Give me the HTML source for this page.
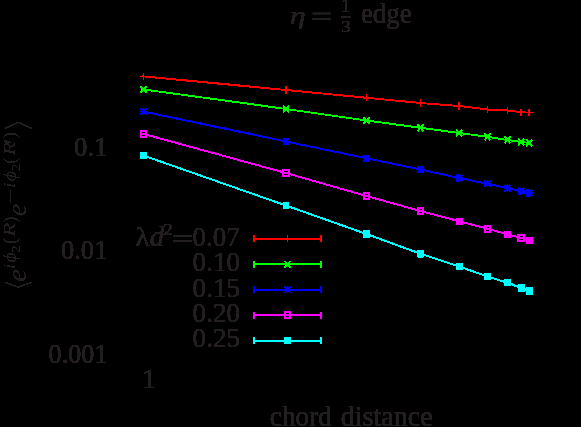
<!DOCTYPE html>
<html><head><meta charset="utf-8"><title>plot</title>
<style>
html,body{margin:0;padding:0;background:#000;}
body{width:581px;height:427px;overflow:hidden;position:relative;font-family:"Liberation Serif",serif;}
</style></head><body>
<svg width="581" height="427" viewBox="0 0 581 427" style="position:absolute;left:0;top:0;will-change:transform">
<defs><filter id="hard0" x="0" y="0" width="581" height="427" filterUnits="userSpaceOnUse" color-interpolation-filters="sRGB"><feComponentTransfer><feFuncA type="linear" slope="100" intercept="-2.5"/></feComponentTransfer></filter><filter id="hard" x="0" y="0" width="581" height="427" filterUnits="userSpaceOnUse" color-interpolation-filters="sRGB"><feComponentTransfer><feFuncA type="linear" slope="12" intercept="-0.5"/></feComponentTransfer></filter><filter id="hard2" x="0" y="0" width="581" height="427" filterUnits="userSpaceOnUse" color-interpolation-filters="sRGB"><feComponentTransfer><feFuncA type="linear" slope="8" intercept="-2.9"/></feComponentTransfer></filter></defs>
<rect width="581" height="427" fill="#000"/>
<g fill="none" filter="url(#hard0)">
<polyline points="141.91,76.25 286.00,90.00 366.50,97.80 420.50,102.90 459.20,106.00 487.50,109.40 507.50,110.40 521.20,112.20 530.30,112.42" stroke="#ff0000" stroke-width="1.03"/>
<path d="M140.20 76.40H146.80M143.50 73.10V79.70" stroke="#ff0000" stroke-width="1.03"/>
<path d="M282.70 90.00H289.30M286.00 86.70V93.30" stroke="#ff0000" stroke-width="1.03"/>
<path d="M363.20 97.80H369.80M366.50 94.50V101.10" stroke="#ff0000" stroke-width="1.03"/>
<path d="M417.20 102.90H423.80M420.50 99.60V106.20" stroke="#ff0000" stroke-width="1.03"/>
<path d="M455.90 106.00H462.50M459.20 102.70V109.30" stroke="#ff0000" stroke-width="1.03"/>
<path d="M484.20 109.40H490.80M487.50 106.10V112.70" stroke="#ff0000" stroke-width="1.03"/>
<path d="M504.20 110.40H510.80M507.50 107.10V113.70" stroke="#ff0000" stroke-width="1.03"/>
<path d="M517.90 112.20H524.50M521.20 108.90V115.50" stroke="#ff0000" stroke-width="1.03"/>
<path d="M526.00 112.40H532.60M529.30 109.10V115.70" stroke="#ff0000" stroke-width="1.03"/>
<polyline points="141.91,89.28 286.00,108.90 366.50,120.60 420.50,127.80 459.20,133.00 487.50,136.80 507.50,139.90 521.20,141.90 530.29,142.91" stroke="#00ff00" stroke-width="1.03"/>
<path d="M140.70 86.50L146.30 92.50M140.70 92.50L146.30 86.50" stroke="#00ff00" stroke-width="1.03"/>
<path d="M283.20 105.90L288.80 111.90M283.20 111.90L288.80 105.90" stroke="#00ff00" stroke-width="1.03"/>
<path d="M363.70 117.60L369.30 123.60M363.70 123.60L369.30 117.60" stroke="#00ff00" stroke-width="1.03"/>
<path d="M417.70 124.80L423.30 130.80M417.70 130.80L423.30 124.80" stroke="#00ff00" stroke-width="1.03"/>
<path d="M456.40 130.00L462.00 136.00M456.40 136.00L462.00 130.00" stroke="#00ff00" stroke-width="1.03"/>
<path d="M484.70 133.80L490.30 139.80M484.70 139.80L490.30 133.80" stroke="#00ff00" stroke-width="1.03"/>
<path d="M504.70 136.90L510.30 142.90M504.70 142.90L510.30 136.90" stroke="#00ff00" stroke-width="1.03"/>
<path d="M518.40 138.90L524.00 144.90M518.40 144.90L524.00 138.90" stroke="#00ff00" stroke-width="1.03"/>
<path d="M526.50 139.80L532.10 145.80M526.50 145.80L532.10 139.80" stroke="#00ff00" stroke-width="1.03"/>
<polyline points="141.93,111.17 286.00,141.40 366.50,158.30 420.50,169.60 459.20,178.00 487.50,183.70 507.50,188.10 521.20,191.20 530.28,193.11" stroke="#0000ff" stroke-width="1.03"/>
<path d="M140.70 108.50L146.30 114.50M140.70 114.50L146.30 108.50M143.50 108.20V114.80M140.20 111.50H146.80" stroke="#0000ff" stroke-width="1.03"/>
<path d="M283.20 138.40L288.80 144.40M283.20 144.40L288.80 138.40M286.00 138.10V144.70M282.70 141.40H289.30" stroke="#0000ff" stroke-width="1.03"/>
<path d="M363.70 155.30L369.30 161.30M363.70 161.30L369.30 155.30M366.50 155.00V161.60M363.20 158.30H369.80" stroke="#0000ff" stroke-width="1.03"/>
<path d="M417.70 166.60L423.30 172.60M417.70 172.60L423.30 166.60M420.50 166.30V172.90M417.20 169.60H423.80" stroke="#0000ff" stroke-width="1.03"/>
<path d="M456.40 175.00L462.00 181.00M456.40 181.00L462.00 175.00M459.20 174.70V181.30M455.90 178.00H462.50" stroke="#0000ff" stroke-width="1.03"/>
<path d="M484.70 180.70L490.30 186.70M484.70 186.70L490.30 180.70M487.50 180.40V187.00M484.20 183.70H490.80" stroke="#0000ff" stroke-width="1.03"/>
<path d="M504.70 185.10L510.30 191.10M504.70 191.10L510.30 185.10M507.50 184.80V191.40M504.20 188.10H510.80" stroke="#0000ff" stroke-width="1.03"/>
<path d="M518.40 188.20L524.00 194.20M518.40 194.20L524.00 188.20M521.20 187.90V194.50M517.90 191.20H524.50" stroke="#0000ff" stroke-width="1.03"/>
<path d="M526.50 189.90L532.10 195.90M526.50 195.90L532.10 189.90M529.30 189.60V196.20M526.00 192.90H532.60" stroke="#0000ff" stroke-width="1.03"/>
<polyline points="141.96,133.58 286.00,172.90 366.50,196.00 420.50,211.00 459.20,221.30 487.50,228.80 507.50,234.20 521.20,238.00 530.26,240.79" stroke="#ff00ff" stroke-width="1.03"/>
<rect x="140.55" y="130.75" width="5.9" height="6.5" fill="none" stroke="#ff00ff" stroke-width="1.03"/>
<rect x="283.05" y="169.65" width="5.9" height="6.5" fill="none" stroke="#ff00ff" stroke-width="1.03"/>
<rect x="363.55" y="192.75" width="5.9" height="6.5" fill="none" stroke="#ff00ff" stroke-width="1.03"/>
<rect x="417.55" y="207.75" width="5.9" height="6.5" fill="none" stroke="#ff00ff" stroke-width="1.03"/>
<rect x="456" y="218" width="7" height="7" fill="#ff00ff"/>
<rect x="484.55" y="225.55" width="5.9" height="6.5" fill="none" stroke="#ff00ff" stroke-width="1.03"/>
<rect x="504" y="231" width="7" height="7" fill="#ff00ff"/>
<rect x="518.25" y="234.75" width="5.9" height="6.5" fill="none" stroke="#ff00ff" stroke-width="1.03"/>
<rect x="526" y="237" width="7" height="7" fill="#ff00ff"/>
<polyline points="141.99,155.07 286.00,205.50 366.50,233.90 420.50,253.80 459.20,266.50 487.50,276.50 507.50,282.70 521.20,288.00 530.24,291.35" stroke="#00ffff" stroke-width="1.03"/>
<rect x="140.55" y="152.35" width="5.9" height="6.5" fill="#00ffff"/>
<rect x="283.05" y="202.25" width="5.9" height="6.5" fill="#00ffff"/>
<rect x="363.55" y="230.65" width="5.9" height="6.5" fill="#00ffff"/>
<rect x="417.55" y="250.55" width="5.9" height="6.5" fill="#00ffff"/>
<rect x="456.25" y="263.25" width="5.9" height="6.5" fill="#00ffff"/>
<rect x="484.55" y="273.25" width="5.9" height="6.5" fill="#00ffff"/>
<rect x="504.55" y="279.45" width="5.9" height="6.5" fill="#00ffff"/>
<rect x="518.25" y="284.75" width="5.9" height="6.5" fill="#00ffff"/>
<rect x="526.35" y="287.75" width="5.9" height="6.5" fill="#00ffff"/>
<path d="M253.6 238.8H321.4M254 235.65V241.95M321 235.65V241.95" stroke="#ff0000" stroke-width="1.03"/>
<path d="M284.20 238.80H290.80M287.50 235.50V242.10" stroke="#ff0000" stroke-width="1.03"/>
<path d="M253.6 264.25H321.4M254 261.10V267.40M321 261.10V267.40" stroke="#00ff00" stroke-width="1.03"/>
<path d="M284.70 261.25L290.30 267.25M284.70 267.25L290.30 261.25" stroke="#00ff00" stroke-width="1.03"/>
<path d="M253.6 289.75H321.4M254 286.60V292.90M321 286.60V292.90" stroke="#0000ff" stroke-width="1.03"/>
<path d="M284.70 286.75L290.30 292.75M284.70 292.75L290.30 286.75M287.50 286.45V293.05M284.20 289.75H290.80" stroke="#0000ff" stroke-width="1.03"/>
<path d="M253.6 315.15H321.4M254 312.00V318.30M321 312.00V318.30" stroke="#ff00ff" stroke-width="1.03"/>
<rect x="284.55" y="311.90" width="5.9" height="6.5" fill="none" stroke="#ff00ff" stroke-width="1.03"/>
<path d="M253.6 340.75H321.4M254 337.60V343.90M321 337.60V343.90" stroke="#00ffff" stroke-width="1.03"/>
<rect x="284.55" y="337.50" width="5.9" height="6.5" fill="#00ffff"/>
</g>
<g fill="#231f20" filter="url(#hard)" font-family="Liberation Serif, serif" style="font-kerning:none">
<text transform="translate(74.08,155.80) scale(0.9528,1.0000)" font-size="27.97">0.1</text>
<text transform="translate(60.99,259.30) scale(0.9479,1.0000)" font-size="27.97">0.01</text>
<text transform="translate(48.61,362.60) scale(0.9336,1.0000)" font-size="27.97">0.001</text>
<text transform="translate(141.63,387.50) scale(1.0548,1.0000)" font-size="26.66">1</text>
<text transform="translate(269.86,426.32) scale(0.9543,1.0000)" font-size="28.57">chord</text>
<text transform="translate(340.69,426.32) scale(0.9828,1.0000)" font-size="28.57">distance</text>
<text transform="translate(192.57,245.63) scale(0.9734,1.0000)" font-size="27.71">0.07</text>
<text transform="translate(192.57,271.13) scale(0.9788,1.0000)" font-size="27.71">0.10</text>
<text transform="translate(192.57,296.53) scale(0.9793,1.0000)" font-size="27.71">0.15</text>
<text transform="translate(192.57,321.93) scale(0.9788,1.0000)" font-size="27.71">0.20</text>
<text transform="translate(192.57,347.33) scale(0.9793,1.0000)" font-size="27.71">0.25</text>
<text transform="translate(135.23,245.70) scale(1.0544,1.0000)" font-size="27.84">λ</text>
<text transform="translate(149.83,245.61) scale(1.0090,1.0000)" font-size="28.55" font-style="italic">d</text>
<text transform="translate(163.02,234.90) scale(1.2122,1.0000)" font-size="16.46">2</text>
<rect x="173.6" y="235.1" width="18.1" height="1.2"/><rect x="173.6" y="240.1" width="18.1" height="1.2"/>
<text transform="translate(289.85,23.62) scale(1.2324,1.0000)" font-size="26.15" font-style="italic">η</text>
<rect x="312.8" y="12.9" width="17.9" height="1.2"/><rect x="312.8" y="18.3" width="17.9" height="1.2"/>
<text transform="translate(341.15,12.40) scale(0.9608,1.0000)" font-size="18.33">1</text>
<text transform="translate(341.07,32.03) scale(1.1315,1.0000)" font-size="17.12">3</text>
<rect x="341" y="16.2" width="9.5" height="1.2"/>
<text transform="translate(360.95,22.86) scale(0.9429,1.0000)" font-size="28.47">edge</text>
</g>
<g fill="#231f20" filter="url(#hard2)" font-family="Liberation Serif, serif" style="font-kerning:none">
<g transform="translate(25.6,287.6) rotate(-90)">
<path d="M5.4 -20.6L0.5 -7.4L5.4 6.2" fill="none" stroke="#231f20" stroke-width="1.5"/>
<text transform="translate(5.49,0.02) scale(1.0411,1.0000)" font-size="28.28" font-style="italic">e</text>
<text transform="translate(18.48,-10.30) scale(1.0322,1.0000)" font-size="17.67" font-style="italic">i</text>
<text transform="translate(25.05,-9.90) scale(1.0781,1.0000)" font-size="18.31" font-style="italic">ϕ</text>
<text transform="translate(34.61,-5.70) scale(1.3691,1.0000)" font-size="11.48">2</text>
<text transform="translate(43.29,-9.90) scale(1.0453,1.0000)" font-size="19.74">(</text>
<text transform="translate(50.82,-10.30) scale(1.3104,1.0000)" font-size="17.56" font-style="italic">R</text>
<text transform="translate(64.66,-9.90) scale(1.0059,1.0000)" font-size="19.74">)</text>
<text transform="translate(71.21,0.02) scale(1.0230,1.0000)" font-size="28.28" font-style="italic">e</text>
<rect x="84.8" y="-15.8" width="12.8" height="1.1"/>
<text transform="translate(99.78,-10.30) scale(1.0322,1.0000)" font-size="17.67" font-style="italic">i</text>
<text transform="translate(106.24,-9.90) scale(1.0897,1.0000)" font-size="18.31" font-style="italic">ϕ</text>
<text transform="translate(116.10,-5.70) scale(1.3909,1.0000)" font-size="11.48">2</text>
<text transform="translate(123.68,-9.90) scale(1.0650,1.0000)" font-size="19.74">(</text>
<text transform="translate(132.12,-10.30) scale(1.2914,1.0000)" font-size="17.56" font-style="italic">R</text>
<text transform="translate(143.49,-3.08) scale(0.8938,1.0000)" font-size="29.80">′</text>
<text transform="translate(148.51,-9.90) scale(1.0848,1.0000)" font-size="19.74">)</text>
<path d="M159.1 -20.6L165.3 -7.4L159.1 6.2" fill="none" stroke="#231f20" stroke-width="1.5"/>
</g>
</g>
</svg>
</body></html>
